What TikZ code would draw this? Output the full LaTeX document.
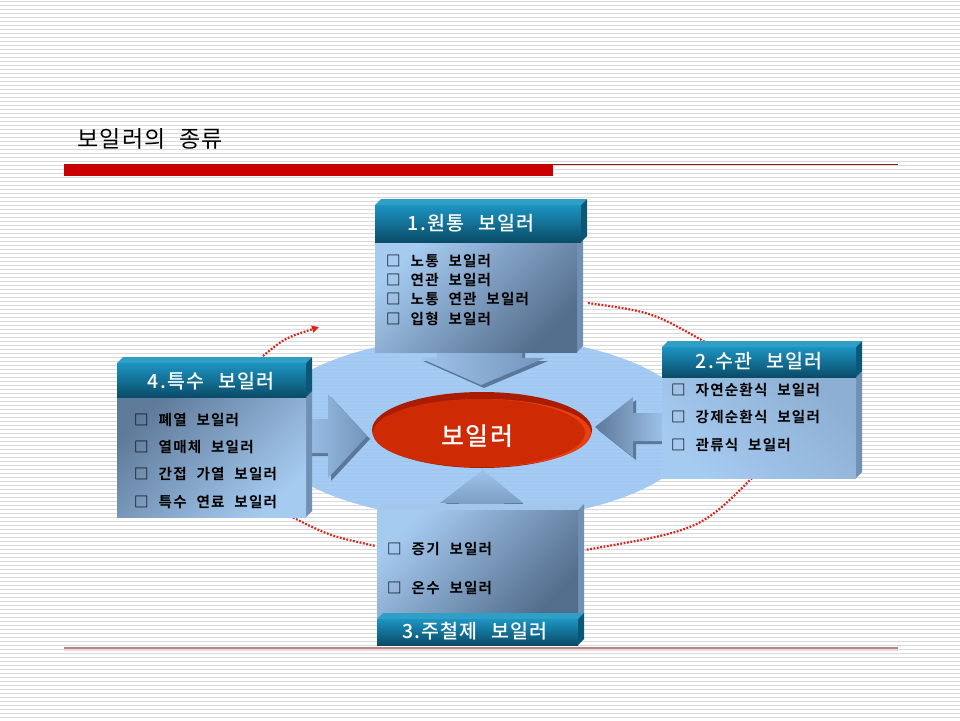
\documentclass[tikz,border=0pt]{standalone}
\usepackage{fontspec}
\setmainfont{Noto Sans CJK KR}
\newfontfamily\itemfam{Noto Sans CJK KR Bold}[LetterSpace=8,WordSpace=2.2]
\newfontfamily\headfam{Noto Sans CJK KR Medium}[LetterSpace=6,WordSpace=2.5]
\newfontfamily\titlefam{Noto Sans CJK KR}[LetterSpace=6,WordSpace=2]
\usetikzlibrary{arrows.meta}
\definecolor{stripe}{HTML}{DADADA}
\definecolor{barred}{HTML}{C80000}
\definecolor{thinred}{HTML}{8C1C1C}
\definecolor{pinkline}{HTML}{B88484}
\definecolor{skyell}{HTML}{98C4F2}
\definecolor{dotred}{HTML}{E0201A}
\definecolor{hdtop}{HTML}{2F9FC6}
\definecolor{hdA}{HTML}{1C94C2}
\definecolor{hdB}{HTML}{0A4C68}
\definecolor{hdside}{HTML}{0C5676}
\definecolor{bdlight}{HTML}{A6CBF1}
\definecolor{bddark}{HTML}{536D8C}
\definecolor{bdtop}{HTML}{A2C6EC}
\definecolor{bdside}{HTML}{7090B4}
\definecolor{arA}{HTML}{9EC3EA}
\definecolor{arB}{HTML}{7495BC}
\definecolor{arEdge}{HTML}{5C7898}
\definecolor{rimred}{HTML}{A81C00}
\definecolor{facered}{HTML}{CE2A04}
\definecolor{hilite}{HTML}{E84010}
\newcommand{\slab}[8]{%
  \fill[#6] (#1,#2) -- (#1+#8,#2-#8) -- (#3+#8,#2-#8) -- (#3,#2) -- cycle;
  \fill[#7] (#3,#2) -- (#3+#8,#2-#8) -- (#3+#8,#4-#8) -- (#3,#4) -- cycle;
  \shade[#5] (#1,#2) rectangle (#3,#4);
}
\begin{document}
\begin{tikzpicture}[x=1pt,y=-1pt,
  itemtxt/.style={anchor=west, inner sep=0pt, text=black, font=\itemfam\fontsize{14.6}{16}\selectfont},
  headtxt/.style={inner sep=0pt, text=white, font=\headfam\fontsize{19.5}{21}\selectfont},
  hdshade/.style={top color=hdA, bottom color=hdB},
  bodyshadeA/.style={top color=bdlight, bottom color=bddark, shading angle=45},
  bodyshadeB/.style={top color=bddark!85!bdlight, bottom color=bdlight, shading angle=45},
  bodyshadeC/.style={top color=bdlight!70!bddark, bottom color=bdlight, shading angle=-45},
  arrowface/.style={left color=arA, right color=arB},
  dotarc/.style={draw=dotred, line width=2.2pt, dash pattern=on 1.8pt off 1.6pt}
]
\useasboundingbox (0,0) rectangle (960,720);
\fill[white] (0,0) rectangle (960,720);
\foreach \i in {0,...,179} \draw[stripe, line width=1pt] (0,\i*4+1.5) -- (960,\i*4+1.5);

% title and rules
\node[anchor=west, inner sep=0pt, font=\titlefam\fontsize{23}{25}\selectfont] (title) at (77,139) {보일러의 종류};
\fill[barred] (64,164) rectangle (553,176);
\draw[thinred, line width=1.3pt] (553,164.5) -- (898,164.5);
\draw[pinkline, line width=2.2pt] (64,648) -- (898,648);
\draw[red!15, line width=1.5pt] (64,650.5) -- (898,650.5);

% background ellipse
\fill[skyell, opacity=0.88] (480,428) ellipse [x radius=218, y radius=92];

% dotted cycle arcs
\coordinate (ulA) at (263,356);
\coordinate (ulB) at (319,327);
\coordinate (urA) at (588,303);
\coordinate (urB) at (705,342);
\coordinate (lrA) at (752,478);
\coordinate (lrB) at (585,550);
\coordinate (llA) at (290,516);
\coordinate (llB) at (376,546);
\draw[dotarc, -{Triangle[length=7pt,width=7pt]}] (ulA) .. controls (285,338) .. (ulB);
\draw[dotarc] (urA) .. controls (652,312) .. (urB);
\draw[dotarc] (lrA) .. controls (700,530) .. (lrB);
\draw[dotarc] (llA) .. controls (330,536) .. (llB);

% block arrows (edge copy then face)
\fill[arEdge] (440,348) -- (525,348) -- (525,361) -- (548,361) -- (484,388) -- (423,361) -- (440,361) -- cycle;
\shade[arrowface] (437,345) -- (522,345) -- (522,358) -- (545,358) -- (481,385) -- (420,358) -- (437,358) -- cycle;
\fill[arEdge] (666,416) -- (636,416) -- (636,400) -- (598,430) -- (636,460) -- (636,444) -- (666,444) -- cycle;
\shade[left color=arEdge, right color=arA] (664,413) -- (633,413) -- (633,397) -- (595,427) -- (633,457) -- (633,441) -- (664,441) -- cycle;
\fill[arEdge] (300,422) -- (331,422) -- (331,397) -- (370,439) -- (331,481) -- (331,456) -- (300,456) -- cycle;
\shade[left color=arA, right color=arB] (300,419) -- (328,419) -- (328,394) -- (367,436) -- (328,478) -- (328,453) -- (300,453) -- cycle;
\fill[arEdge] (462,515) -- (462,506) -- (443,506) -- (486,473) -- (526,506) -- (507,506) -- (507,515) -- cycle;
\shade[top color=arA, bottom color=arB] (459,512) -- (459,503) -- (440,503) -- (483,470) -- (523,503) -- (504,503) -- (504,512) -- cycle;

% box 1 (top)
\slab{375}{242}{577}{352}{bodyshadeA}{bdtop}{bdside}{6}
\slab{375}{205}{581}{242}{hdshade}{hdtop}{hdside}{6}
\node[headtxt] (h1) at (471,223) {1.원통 보일러};
\node[itemtxt] (t11) at (386,261) {□ 노통 보일러};
\node[itemtxt] (t12) at (386,280) {□ 연관 보일러};
\node[itemtxt] (t13) at (386,299) {□ 노통 연관 보일러};
\node[itemtxt] (t14) at (386,319) {□ 입형 보일러};

% box 2 (right)
\slab{662}{377}{856}{478}{bodyshadeC}{bdtop}{bdside}{6}
\slab{662}{347}{856}{377}{hdshade}{hdtop}{hdside}{6}
\node[headtxt] (h2) at (759,361) {2.수관 보일러};
\node[itemtxt] (t21) at (671,390) {□ 자연순환식 보일러};
\node[itemtxt] (t22) at (671,417) {□ 강제순환식 보일러};
\node[itemtxt] (t23) at (671,445) {□ 관류식 보일러};

% box 4 (left)
\slab{117}{397}{306}{517}{bodyshadeB}{bdtop}{bdside}{6}
\slab{117}{363}{306}{397}{hdshade}{hdtop}{hdside}{6}
\node[headtxt] (h4) at (211,381) {4.특수 보일러};
\node[itemtxt] (t41) at (134,420) {□ 폐열 보일러};
\node[itemtxt] (t42) at (134,447) {□ 열매체 보일러};
\node[itemtxt] (t43) at (134,474) {□ 간접 가열 보일러};
\node[itemtxt] (t44) at (134,502) {□ 특수 연료 보일러};

% box 3 (bottom)
\slab{377}{510}{578}{619}{bodyshadeA}{bdtop}{bdside}{6}
\slab{377}{619}{578}{645}{hdshade}{hdtop}{hdside}{6}
\node[headtxt] (h3) at (475,631) {3.주철제 보일러};
\node[itemtxt] (t31) at (387,549) {□ 증기 보일러};
\node[itemtxt] (t32) at (387,588) {□ 온수 보일러};

% centre disk
\fill[rimred] (482,430) ellipse [x radius=110, y radius=38];
\fill[hilite] (484,433) ellipse [x radius=107, y radius=34];
\fill[facered] (479,433) ellipse [x radius=106, y radius=34];
\node[inner sep=0pt, text=white, font=\headfam\fontsize{25}{27}\selectfont] (center) at (477,436) {보일러};
\end{tikzpicture}
\end{document}
